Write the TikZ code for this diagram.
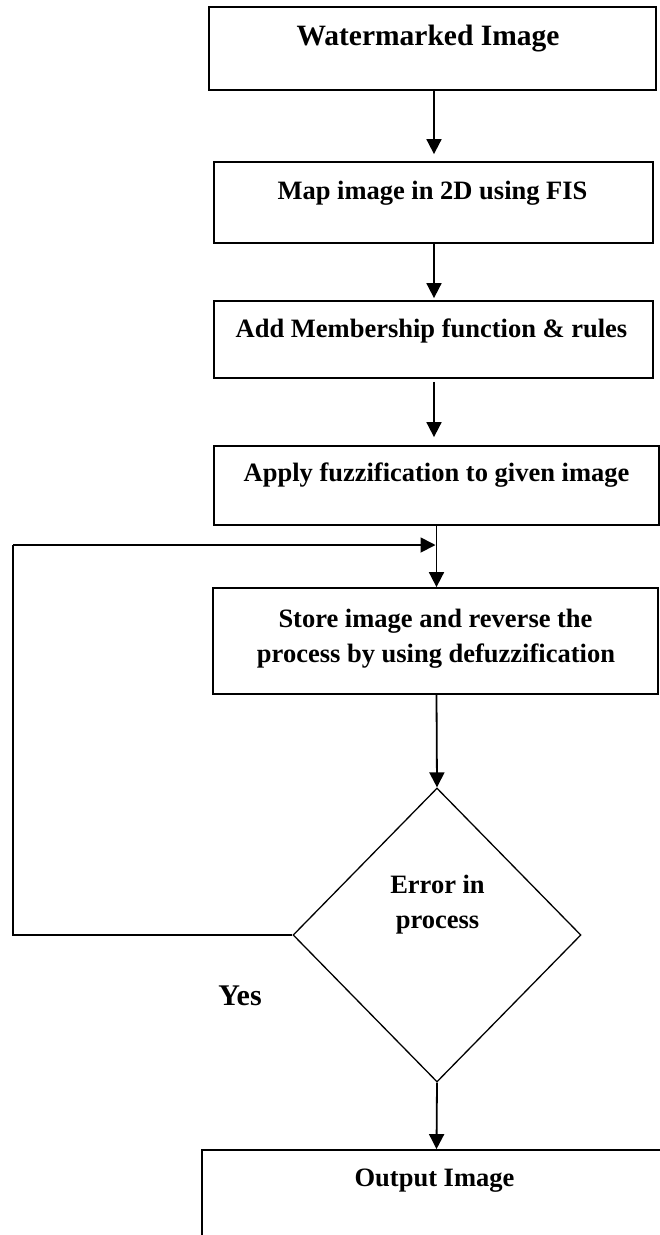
\documentclass[tikz,border=0pt]{standalone}
\usepackage{fontspec}
\setmainfont{Liberation Serif}
\usetikzlibrary{arrows.meta,shapes.geometric}

\begin{document}
\begin{tikzpicture}[x=1pt,y=-1pt,
  procbox/.style={draw,line width=1.8pt,rectangle,inner sep=0pt},
  decision/.style={draw,line width=1.3pt,diamond,inner sep=0pt,minimum width=288pt,minimum height=294pt},
  label/.style={font=\bfseries\fontsize{26.5}{32}\selectfont,inner sep=0pt,anchor=base},
  flow/.style={line width=1.8pt,-{Triangle[length=15pt,width=15pt]}},
  plain/.style={line width=1.6pt}]
\useasboundingbox (0,0) rectangle (660,1235);

% process boxes (corner positions in px, y downwards)
\node[procbox,minimum width=447pt,minimum height=83pt] (b1) at (432.5,48.5) {};
\node[procbox,minimum width=439pt,minimum height=81pt] (b2) at (433.5,202.5) {};
\node[procbox,minimum width=439pt,minimum height=77pt] (b3) at (433.5,339.5) {};
\node[procbox,minimum width=445pt,minimum height=79pt] (b4) at (436.5,485.5) {};
\node[procbox,minimum width=445pt,minimum height=106pt] (b5) at (435.5,641) {};
\node[decision] (d) at (437,935) {};
\node[procbox,minimum width=520pt,minimum height=160pt] (b6) at (462,1230) {};

% box texts
\node[label,font=\bfseries\fontsize{29.5}{35}\selectfont] (t1) at (428,45) {Watermarked Image};
\node[label] (t2) at (432.5,199) {Map image in 2D using FIS};
\node[label] (t3) at (431.5,337) {Add Membership function \& rules};
\node[label] (t4) at (436.5,481) {Apply fuzzification to given image};
\node[label] (t5a) at (435.5,627) {Store image and reverse the};
\node[label] (t5b) at (436,662) {process by using defuzzification};
\node[label] (t6a) at (437.5,893) {Error in};
\node[label] (t6b) at (437.5,928) {process};
\node[label,font=\bfseries\fontsize{30}{36}\selectfont] (yes) at (240,1005) {Yes};
\node[label] (t7) at (434.5,1186) {Output Image};

% flow columns
\coordinate (colA) at (434,0);
\coordinate (colB) at (436.5,0);
\coordinate (fb) at (13,545);

% main flow
\draw[flow,shorten >=7pt] (b1.south -| colA) -- (b2.north -| colA);
\draw[flow,shorten >=2pt] (b2.south -| colA) -- (b3.north -| colA);
\draw[flow,shorten <=3pt,shorten >=8pt] (b3.south -| colA) -- (b4.north -| colA);
\draw[flow] (b4.south -| colB) -- (b5.north -| colB);
\draw[flow] (b5.south -| colB) -- (d.north);
\draw[flow] (d.south) -- (b6.north -| colB);

% feedback loop from the decision back above the store step
\draw[plain] (d.west) -- (d.west -| fb) -- (fb);
\draw[flow,shorten >=1pt] (fb) -- (fb -| colB);
\end{tikzpicture}
\end{document}
